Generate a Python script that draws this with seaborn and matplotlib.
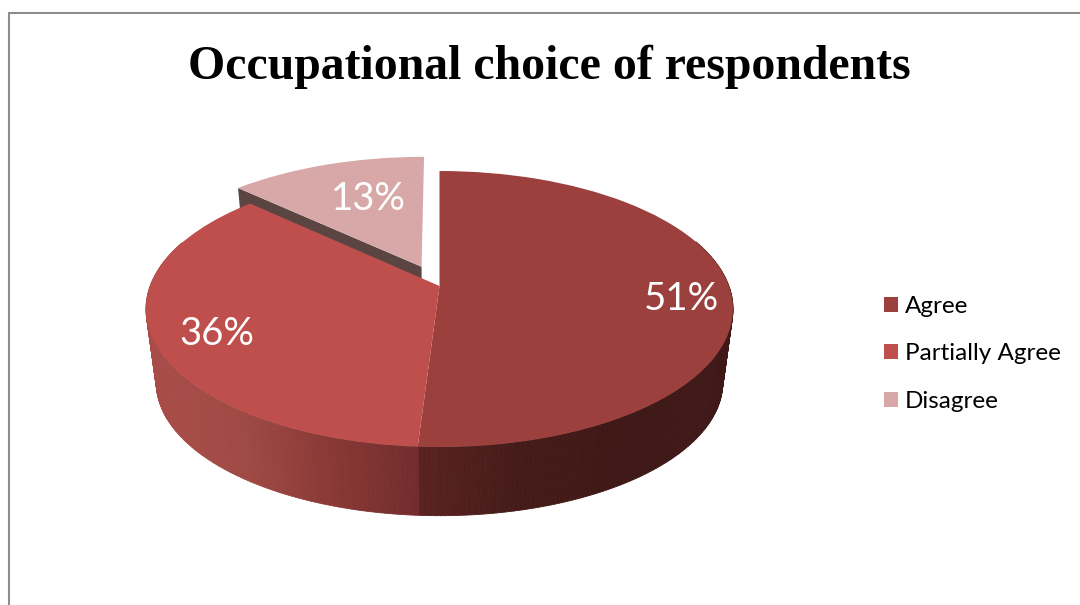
import numpy as np
import matplotlib; matplotlib.use("Agg")
import matplotlib.pyplot as plt
import matplotlib.transforms as mtransforms
from matplotlib.collections import PolyCollection
import seaborn as sns

TITLE      = "Occupational choice of respondents"
CATEGORIES = ["Agree", "Partially Agree", "Disagree"]
SHARES     = [51, 36, 13]
EXPLODE    = [0, 0, 0.16]
COLORS     = ["#9B403D", "#BE4F4C", "#D8A8A8"]

W, H = 1080, 605
CX, CY_APEX = 439.5, 286.0   # where the pie centre lands, in pixels
PERSP_C = 0.1667             # foreshortening of the pie plane
SCALE_X = 289.4
SCALE_Y = 86.5
DEPTH_SCALE = 0.965          # lower disc is a bit smaller
ELL_CY, LOW_CY = 309.0, 382.5


class PiePlane(mtransforms.Transform):
    """tilts the flat unit pie into the 3d looking plane (pixel coords out)"""
    input_dims = output_dims = 2
    is_separable = False
    has_inverse = False

    def transform_non_affine(self, values):
        values = np.asarray(values, dtype=float)
        u, v = values[:, 0], values[:, 1]
        d = 1 + PERSP_C * v
        return np.column_stack([CX + SCALE_X * u / d, (CY_APEX - SCALE_Y * v) / d])


def lower(pts):
    pts = np.asarray(pts, dtype=float)
    return np.column_stack([CX + DEPTH_SCALE * (pts[:, 0] - CX),
                            LOW_CY + DEPTH_SCALE * (pts[:, 1] - ELL_CY)])


def wall_strips(plane, a0, a1, cmap):
    # a0, a1 in degrees, counter clockwise like matplotlib wedges
    ang = np.radians(np.arange(a0, a1 + 0.5, 0.75))
    unit = np.column_stack([np.cos(ang), np.sin(ang)])
    top = plane.transform(unit)
    low = lower(top)
    quads, cols = [], []
    for i in range(len(ang) - 1):
        quads.append([top[i], top[i + 1], low[i + 1], low[i]])
        cols.append(cmap((top[i, 0] + top[i + 1, 0]) / 2))
    return quads, cols


sns.set_theme(style="white")
plt.rcParams["font.family"] = ["Lato", "DejaVu Sans"]

fig, ax = plt.subplots(figsize=(W / 100, H / 100), dpi=100)
wedges, _, autotexts = ax.pie(
    SHARES, explode=EXPLODE, colors=COLORS, startangle=90, counterclock=False,
    autopct="%.0f%%", textprops={"color": "white", "fontsize": 27.5},
    wedgeprops={"linewidth": 0},
)
ax.set_position([0, 0, 1, 1])
ax.set_aspect("auto")
ax.set_xlim(0, W)
ax.set_ylim(H, 0)

plane = PiePlane()
for w in wedges:
    w.set_transform(plane + ax.transData)
    w.set_zorder(3)

# outer wall, split where the two front slices meet
split = wedges[0].theta1
right_cmap = sns.blend_palette(["#5A2321", "#451B19", "#3F1917", "#3F1917"], as_cmap=True)
left_cmap = sns.blend_palette(["#A84C48", "#A04A45", "#8A3936", "#722D2C"], as_cmap=True)

q, c = wall_strips(plane, split, 20, lambda x: right_cmap(float(np.clip((x - 417) / 313, 0, 1))))
ax.add_collection(PolyCollection(q, facecolors=c, edgecolors=c, linewidths=0.6, zorder=1))
q, c = wall_strips(plane, 160, 360 + split, lambda x: left_cmap(float(np.clip((x - 150) / 267, 0, 1))))
ax.add_collection(PolyCollection(q, facecolors=c, edgecolors=c, linewidths=0.6, zorder=1))

# cut face of the pulled out slice
mid = np.radians((wedges[2].theta1 + wedges[2].theta2) / 2)
off = np.array([np.cos(mid), np.sin(mid)]) * EXPLODE[2]
a = np.radians(wedges[2].theta2)
edge = plane.transform(np.array([[np.cos(a), np.sin(a)], [0, 0]]) + off)
face = np.vstack([edge, lower(edge)[::-1]])
ax.add_collection(PolyCollection([face], facecolors="#5A4543", edgecolors="none", zorder=2))

for t, pos in zip(autotexts, [(681, 299), (217, 334), (368, 199)]):
    t.set_position(pos)
    t.set_zorder(5)

ax.text(549.5, 67, TITLE, ha="center", va="center", fontsize=34.4, fontweight="bold",
        family=["Liberation Serif"], color="black")

ax.plot([9, 9, W], [H, 13, 13], color="#8C8C8C", lw=1.5, solid_joinstyle="miter", zorder=6)

ax.legend(wedges, CATEGORIES, loc="center left", bbox_to_anchor=(884 / W, 1 - 354 / H),
          frameon=False, fontsize=17.5, labelcolor="black", handlelength=0.57,
          handleheight=0.57, handletextpad=0.29, labelspacing=1.09,
          borderpad=0, borderaxespad=0)

fig.savefig("out.png", dpi=100, facecolor="white")
